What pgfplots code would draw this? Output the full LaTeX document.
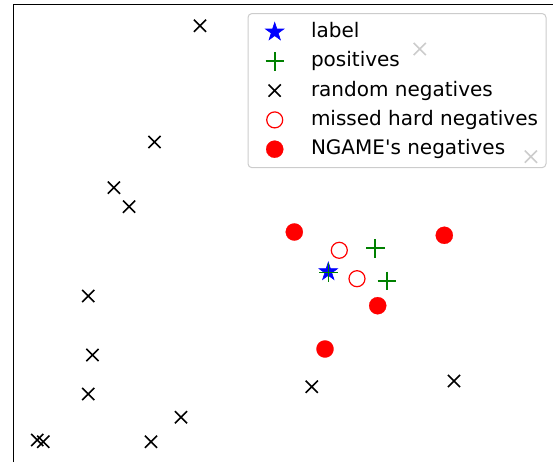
\documentclass[border=0pt]{standalone}
\usepackage{fontspec}
\setmainfont{DejaVu Sans}
\usepackage{pgfplots}
\pgfplotsset{compat=1.18}
\definecolor{mplgreen}{RGB}{0,128,0}
\pgfdeclareplotmark{fstar}{%
  \pgfpathmoveto{\pgfpointpolar{90}{\pgfplotmarksize}}%
  \pgfpathlineto{\pgfpointpolar{126}{0.382\pgfplotmarksize}}%
  \pgfpathlineto{\pgfpointpolar{162}{\pgfplotmarksize}}%
  \pgfpathlineto{\pgfpointpolar{198}{0.382\pgfplotmarksize}}%
  \pgfpathlineto{\pgfpointpolar{234}{\pgfplotmarksize}}%
  \pgfpathlineto{\pgfpointpolar{270}{0.382\pgfplotmarksize}}%
  \pgfpathlineto{\pgfpointpolar{306}{\pgfplotmarksize}}%
  \pgfpathlineto{\pgfpointpolar{342}{0.382\pgfplotmarksize}}%
  \pgfpathlineto{\pgfpointpolar{18}{\pgfplotmarksize}}%
  \pgfpathlineto{\pgfpointpolar{54}{0.382\pgfplotmarksize}}%
  \pgfpathclose
  \pgfusepathqfillstroke
}
\begin{document}
\begin{tikzpicture}
\begin{axis}[
  name=ax,
  at={(0pt,0pt)}, anchor=south west,
  scale only axis, width=269.8pt, height=228.7pt,
  xmin=13.4, xmax=553, ymin=0, ymax=457.4,
  axis x line*=top, axis y line*=left,
  axis line style={-, line width=0.6pt, black},
  xtick=\empty, ytick=\empty,
  clip=false,
  every axis plot post/.append style={
    legend image code/.code={%
      \draw[mark repeat=2,mark phase=2,sharp corners,opacity=1,#1] plot coordinates {(-9.3pt,0pt)(0pt,0pt)(9.3pt,0pt)};
      \path (-11.1pt,0pt) (15.9pt,0pt);}},
  legend cell align=left,
  legend style={
    at={(axis cs:546.5,449)}, anchor=north east,
    draw=black!20, line width=0.5pt, rounded corners=2pt,
    fill=white, fill opacity=0.8, text opacity=1, draw opacity=1,
    font=\fontsize{10}{12}\selectfont,
    inner xsep=2pt, inner ysep=2.5pt,
    row sep=1.15pt,
    nodes={inner sep=2pt, text height=7.5pt, text depth=2pt},
  },
]
\addplot[only marks, mark=fstar, mark size=4.8pt, color=blue, mark options={fill=blue, line width=0.3pt}]
  coordinates {(328.3,190.3)};
\addlegendentry{label}
\addplot[only marks, mark=+, mark size=4.6pt, color=mplgreen, mark options={line width=0.85pt}]
  coordinates {(328.4,189.5) (375.3,213.7) (386.7,181.3)};
\addlegendentry{positives}
\addplot[only marks, mark=x, mark size=4.3pt, color=black, mark options={line width=0.8pt}]
  coordinates {
  (200,436.3) (154.5,320) (113.9,274.3) (129.1,255.3) (88.2,166)
  (92.4,107) (88.2,68) (181,44.7) (151,20.3) (37.3,22) (43.3,20.3)
  (311.8,75.3) (454,81) (419.8,413) (530.9,305.3)};
\addlegendentry{random negatives}
\addplot[only marks, mark=o, mark size=4pt, color=red, mark options={line width=0.6pt}]
  coordinates {(339.3,211.7) (357,183.3)};
\addlegendentry{missed hard negatives}
\addplot[only marks, mark=*, mark size=4.3pt, color=red, mark options={fill=red, line width=0.1pt}]
  coordinates {(294.3,230) (444.3,226.7) (377.7,156.3) (325,113)};
\addlegendentry{NGAME\textquotesingle s negatives}
\end{axis}
\pgfresetboundingbox
\path[use as bounding box] (-6.7pt,0pt) rectangle (269.8pt,231pt);
\end{tikzpicture}
\end{document}
